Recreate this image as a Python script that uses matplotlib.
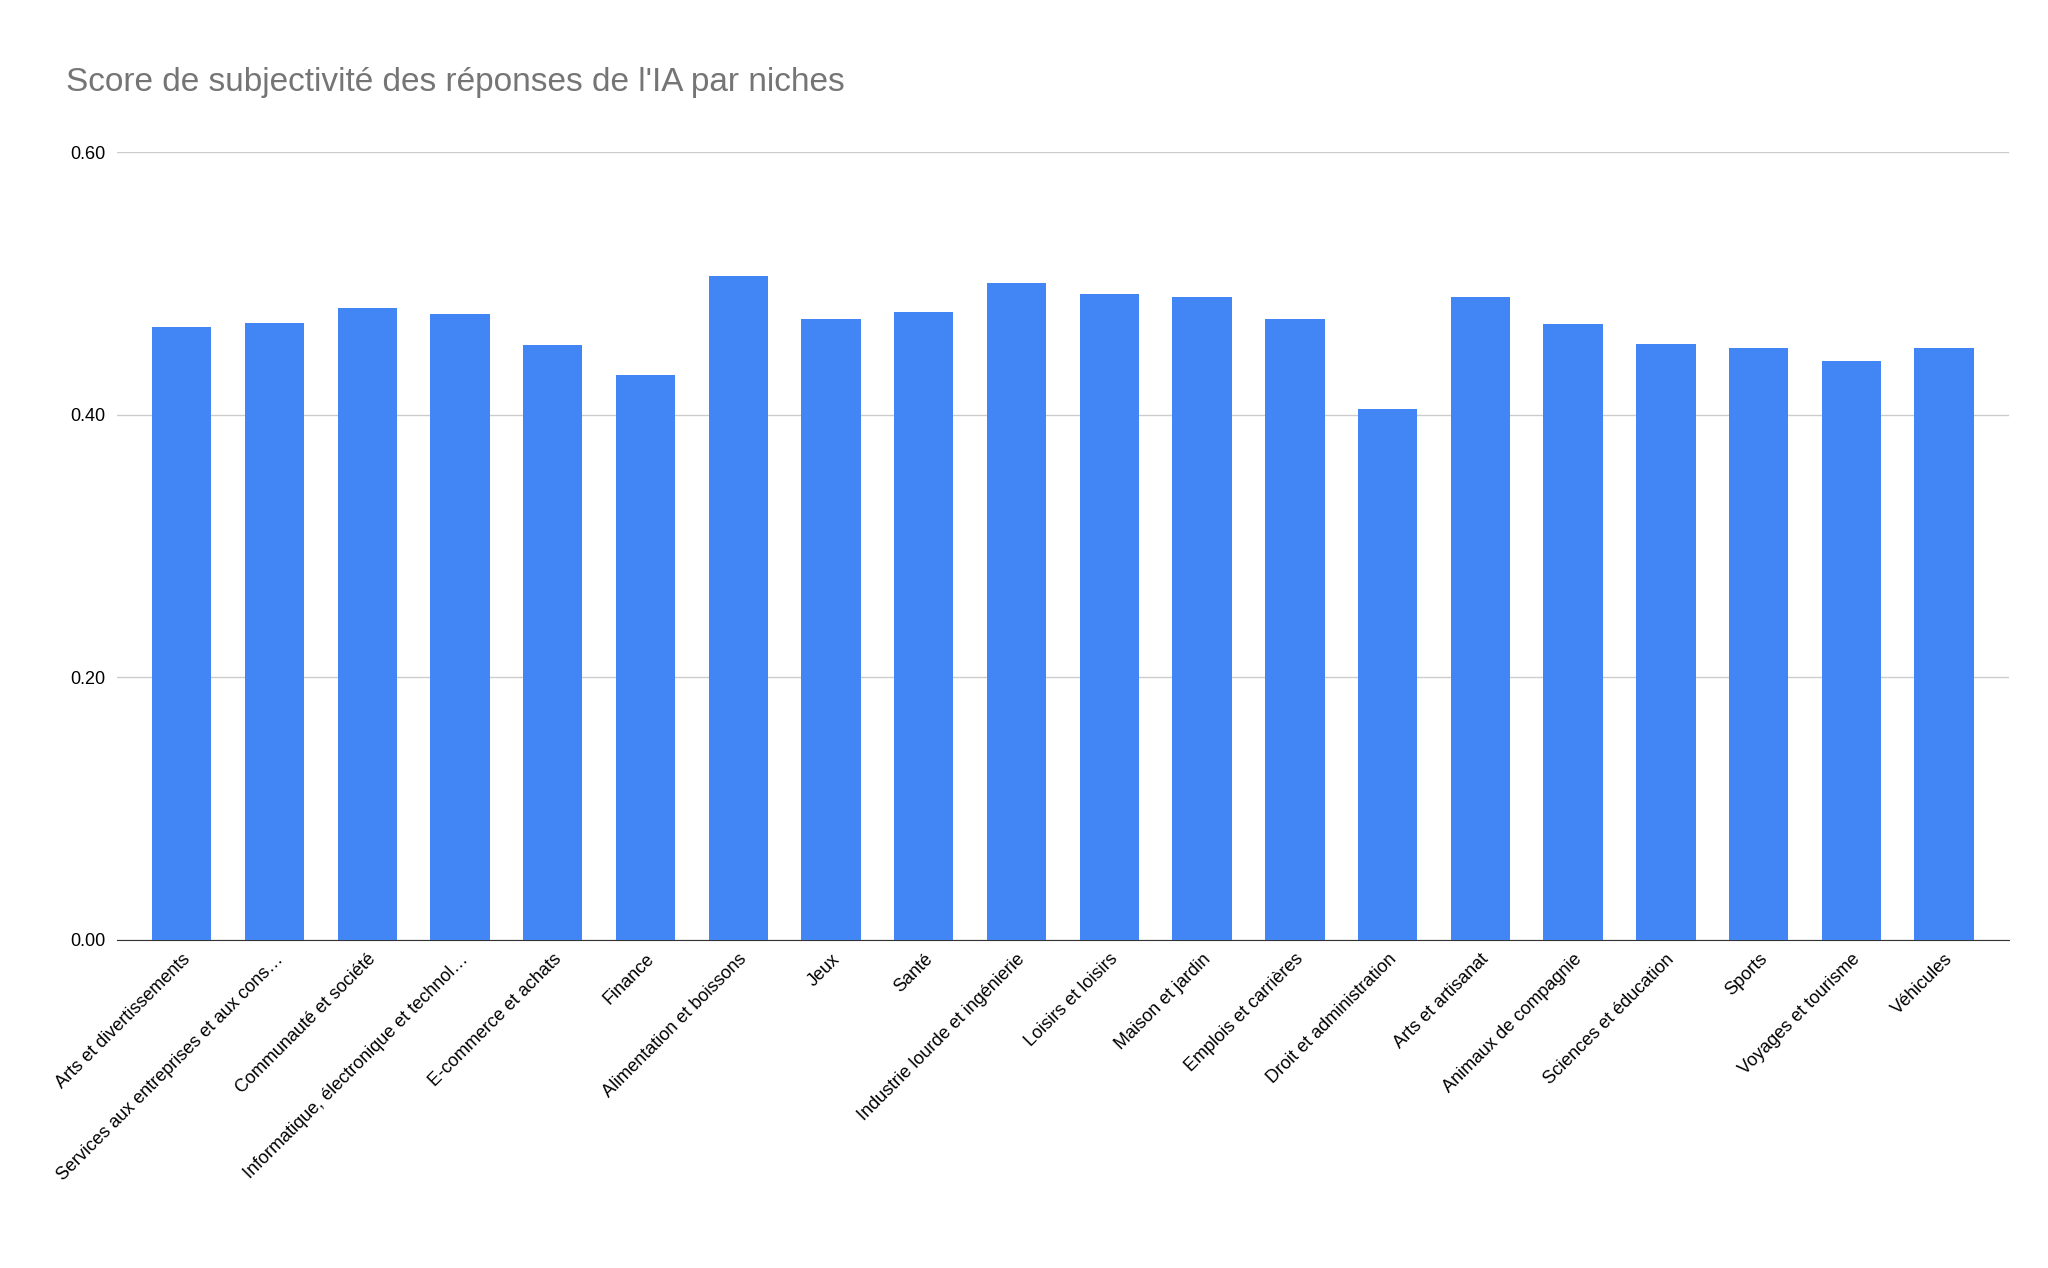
import matplotlib.pyplot as plt

categories = [
    "Arts et divertissements",
    "Services aux entreprises et aux cons…",
    "Communauté et société",
    "Informatique, électronique et technol…",
    "E-commerce et achats",
    "Finance",
    "Alimentation et boissons",
    "Jeux",
    "Santé",
    "Industrie lourde et ingénierie",
    "Loisirs et loisirs",
    "Maison et jardin",
    "Emplois et carrières",
    "Droit et administration",
    "Arts et artisanat",
    "Animaux de compagnie",
    "Sciences et éducation",
    "Sports",
    "Voyages et tourisme",
    "Véhicules",
]
scores = [0.467, 0.470, 0.481, 0.477, 0.453, 0.430, 0.506, 0.473, 0.478, 0.500,
          0.492, 0.490, 0.473, 0.404, 0.490, 0.469, 0.454, 0.451, 0.441, 0.451]
yticks = [0.0, 0.2, 0.4, 0.6]

plt.rcParams["font.family"] = "Liberation Sans"

fig = plt.figure(figsize=(20.48, 12.68), dpi=100)
ax = fig.add_axes([0.057, 0.259, 0.924, 0.621])

x = range(len(categories))
ax.bar(x, scores, width=0.64, color="#4285F4", zorder=3)

ax.set_ylim(0, 0.6)
ax.set_xlim(-0.7, len(categories) - 0.3)
ax.set_yticks(yticks)
ax.set_yticklabels([f"{v:.2f}" for v in yticks], fontsize=13)
ax.set_xticks(list(x))
ax.set_xticklabels(categories, rotation=45, ha="right", rotation_mode="anchor", fontsize=13)
ax.tick_params(length=0, pad=8)
ax.grid(axis="y", color="#cccccc", linewidth=1, zorder=0)
for s in ["top", "right", "left"]:
    ax.spines[s].set_visible(False)
ax.spines["bottom"].set_color("#333333")

fig.text(0.032, 0.935, "Score de subjectivité des réponses de l'IA par niches",
         fontsize=24, color="#757575", va="center")

fig.savefig("out.png", dpi=100)
